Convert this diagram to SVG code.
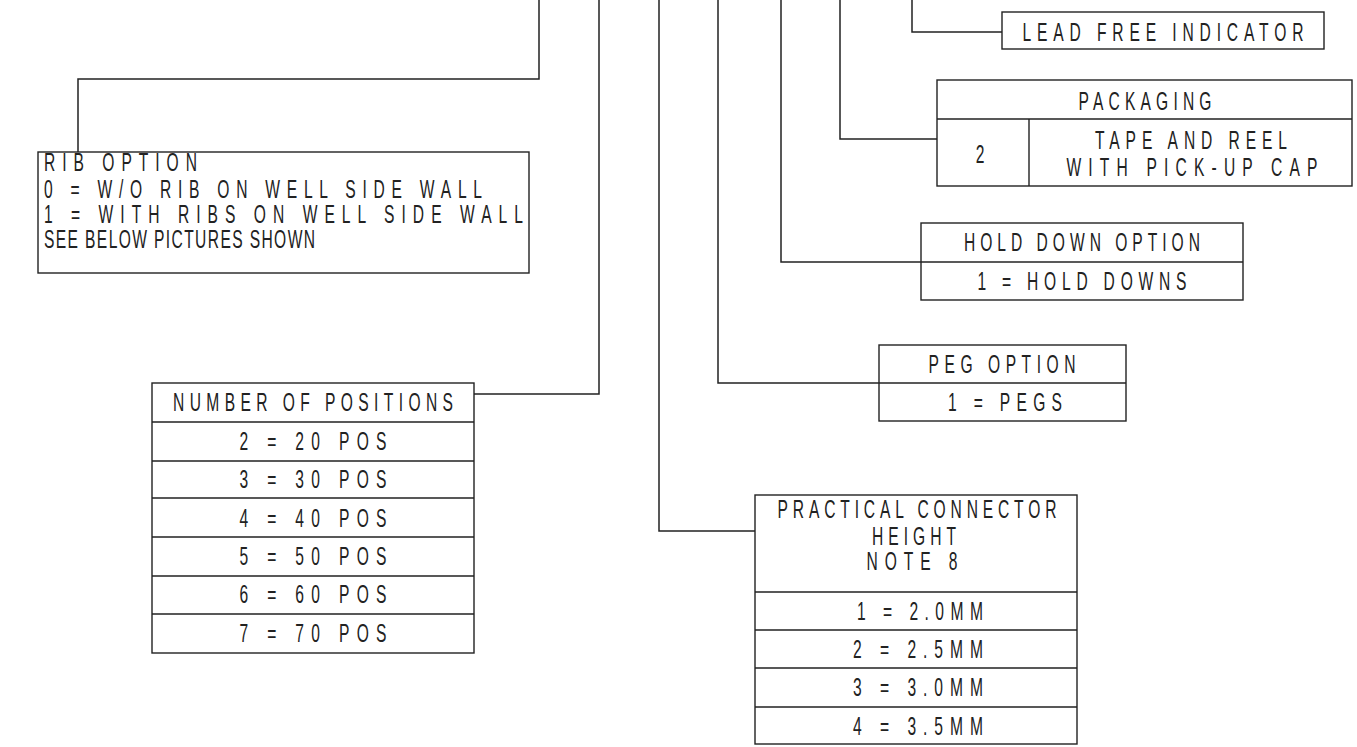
<svg xmlns="http://www.w3.org/2000/svg" width="1357" height="747" viewBox="0 0 1357 747">
<style>
.bx{fill:#fff;stroke:#222;stroke-width:1.4}
.ln{fill:none;stroke:#222;stroke-width:1.4}
.c{fill:none;stroke:#222;stroke-width:1.5}
text{font-family:"Liberation Sans",Arial,sans-serif;font-size:26px;fill:#222}
.m{text-anchor:middle}
</style>
<rect width="1357" height="747" fill="#fff"/>
<g id="connectors">
<path class="c" d="M539,0 V79 H78 V152"/>
<path class="c" d="M599,0 V394 H474"/>
<path class="c" d="M659,0 V531 H755"/>
<path class="c" d="M718,0 V383 H879"/>
<path class="c" d="M781,0 V262 H921"/>
<path class="c" d="M840,0 V139 H937"/>
<path class="c" d="M912,0 V32 H1002"/>
</g>
<g id="lead-free">
<rect class="bx" x="1002" y="12" width="322" height="37"/>
<g transform="scale(0.6,1)">
<text class="m" x="1938.33" y="41.5" textLength="468.33" lengthAdjust="spacing">LEAD FREE INDICATOR</text>
</g>
</g>
<g id="packaging">
<rect class="bx" x="937" y="80" width="415" height="106"/>
<path class="ln" d="M937,119 H1352 M1029,119 V186"/>
<g transform="scale(0.6,1)">
<text class="m" x="1908.33" y="110" textLength="221.67" lengthAdjust="spacing">PACKAGING</text>
<text class="m" x="1633.33" y="163">2</text>
<text class="m" x="1985" y="149" textLength="320" lengthAdjust="spacing">TAPE AND REEL</text>
<text class="m" x="1986.67" y="176.5" textLength="418.33" lengthAdjust="spacing">WITH PICK-UP CAP</text>
</g>
</g>
<g id="rib-option">
<rect class="bx" x="38" y="152" width="491" height="121"/>
<g transform="scale(0.6,1)">
<text x="73.33" y="171" textLength="255" lengthAdjust="spacing">RIB OPTION</text>
<text x="73.33" y="198" textLength="730" lengthAdjust="spacing">0 = W/O RIB ON WELL SIDE WALL</text>
<text x="73.33" y="223" textLength="798.33" lengthAdjust="spacing">1 = WITH RIBS ON WELL SIDE WALL</text>
<text x="73.33" y="248" textLength="451.67" lengthAdjust="spacing">SEE BELOW PICTURES SHOWN</text>
</g>
</g>
<g id="hold-down">
<rect class="bx" x="921" y="223" width="322" height="77"/>
<path class="ln" d="M921,262 H1243"/>
<g transform="scale(0.6,1)">
<text class="m" x="1803.33" y="251.5" textLength="393.33" lengthAdjust="spacing">HOLD DOWN OPTION</text>
<text class="m" x="1803.33" y="290" textLength="348.33" lengthAdjust="spacing">1 = HOLD DOWNS</text>
</g>
</g>
<g id="peg-option">
<rect class="bx" x="879" y="345" width="247" height="76"/>
<path class="ln" d="M879,383 H1126"/>
<g transform="scale(0.6,1)">
<text class="m" x="1670" y="373" textLength="245" lengthAdjust="spacing">PEG OPTION</text>
<text class="m" x="1675" y="411.5" textLength="190" lengthAdjust="spacing">1 = PEGS</text>
</g>
</g>
<g id="number-of-positions">
<rect class="bx" x="152" y="383" width="322" height="270"/>
<path class="ln" d="M152,422 H474 M152,461 H474 M152,498 H474 M152,537 H474 M152,576 H474 M152,614 H474"/>
<g transform="scale(0.6,1)">
<text class="m" x="521.67" y="411.5" textLength="466.67" lengthAdjust="spacing">NUMBER OF POSITIONS</text>
<text class="m" x="521.67" y="450" textLength="245" lengthAdjust="spacing">2 = 20 POS</text>
<text class="m" x="521.67" y="488.5" textLength="245" lengthAdjust="spacing">3 = 30 POS</text>
<text class="m" x="521.67" y="527" textLength="245" lengthAdjust="spacing">4 = 40 POS</text>
<text class="m" x="521.67" y="565" textLength="245" lengthAdjust="spacing">5 = 50 POS</text>
<text class="m" x="521.67" y="603.5" textLength="245" lengthAdjust="spacing">6 = 60 POS</text>
<text class="m" x="521.67" y="642" textLength="245" lengthAdjust="spacing">7 = 70 POS</text>
</g>
</g>
<g id="connector-height">
<rect class="bx" x="755" y="495" width="322" height="249"/>
<path class="ln" d="M755,592 H1077 M755,630 H1077 M755,668 H1077 M755,707 H1077"/>
<g transform="scale(0.6,1)">
<text class="m" x="1528.33" y="518.5" textLength="465" lengthAdjust="spacing">PRACTICAL CONNECTOR</text>
<text class="m" x="1523.33" y="545" textLength="140" lengthAdjust="spacing">HEIGHT</text>
<text class="m" x="1520" y="570.5" textLength="151.67" lengthAdjust="spacing">NOTE 8</text>
<text class="m" x="1533.33" y="620.5" textLength="210" lengthAdjust="spacing">1 = 2.0MM</text>
<text class="m" x="1530" y="658.5" textLength="216.67" lengthAdjust="spacing">2 = 2.5MM</text>
<text class="m" x="1530" y="696.5" textLength="216.67" lengthAdjust="spacing">3 = 3.0MM</text>
<text class="m" x="1530" y="735" textLength="216.67" lengthAdjust="spacing">4 = 3.5MM</text>
</g>
</g>
</svg>
